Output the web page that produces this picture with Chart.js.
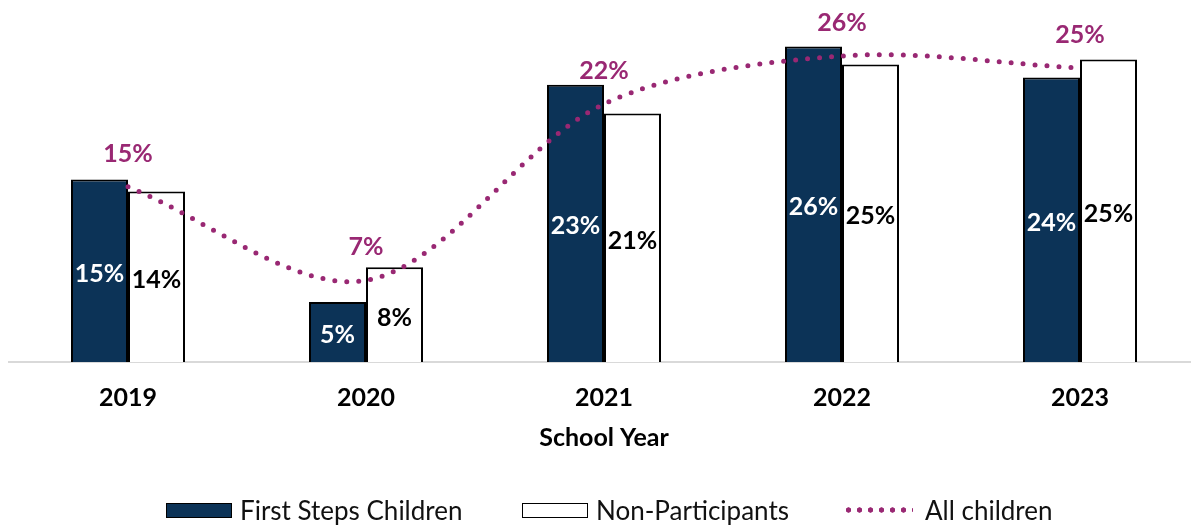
<!DOCTYPE html>
<html>
<head>
<meta charset="utf-8">
<script src="https://cdn.jsdelivr.net/npm/chart.js@4.4.1/dist/chart.umd.min.js"></script>
<style>
  html, body { margin: 0; padding: 0; background: #fff; overflow: hidden; }
  #wrap { position: relative; width: 1200px; height: 527px; }
  #c { display: block; }
  .lg { position: absolute; top: 495px; display: flex; align-items: center; height: 30px;
        font-family: Lato, sans-serif; font-size: 26px; color: #111; white-space: nowrap; }
  .box { width: 64px; height: 13px; border: 1.5px solid #000; margin-right: 8px; }
  .dots { width: 70px; height: 6px; margin-right: 12px;
          background: radial-gradient(circle, #992873 2.4px, rgba(0,0,0,0) 2.9px) 0 0 / 11px 6px repeat-x; }
</style>
</head>
<body>
<div id="wrap">
  <canvas id="c" width="1200" height="527"></canvas>
  <div class="lg" style="left:166px"><span class="box" style="background:#0c3357"></span><span>First Steps Children</span></div>
  <div class="lg" style="left:522px"><span class="box" style="background:#fff"></span><span>Non-Participants</span></div>
  <div class="lg" style="left:843px"><span class="dots"></span><span>All children</span></div>
</div>
<script>
const categories = ['2019', '2020', '2021', '2022', '2023'];
const firstSteps = [15.2, 5.0, 23.1, 26.3, 23.7];
const nonParticipants = [14.2, 7.9, 20.7, 24.8, 25.2];
const allChildren = [14.6, 6.8, 21.5, 25.5, 24.5];
const seriesNames = ['First Steps Children', 'Non-Participants', 'All children'];

const NAVY = '#0c3357';
const PURPLE = '#992873';

const labelPlugin = {
  id: 'valueLabels',
  afterDatasetsDraw(chart) {
    const ctx = chart.ctx;
    ctx.save();
    ctx.textAlign = 'center';
    ctx.textBaseline = 'middle';
    chart.data.datasets.forEach((ds, i) => {
      const meta = chart.getDatasetMeta(i);
      meta.data.forEach((el, j) => {
        const txt = Math.round(ds.data[j]) + '%';
        ctx.font = 'bold 25px Lato, sans-serif';
        if (ds.type === 'line') {
          ctx.fillStyle = PURPLE;
          ctx.fillText(txt, el.x, el.y - 33);
        } else {
          ctx.fillStyle = i === 0 ? '#ffffff' : '#000000';
          const mid = (el.y + el.base) / 2 + 3;
          ctx.fillText(txt, el.x, mid);
        }
      });
    });
    ctx.restore();
  }
};

new Chart(document.getElementById('c'), {
  type: 'bar',
  data: {
    labels: categories,
    datasets: [
      { type: 'bar', label: seriesNames[0], data: firstSteps, backgroundColor: NAVY,
        borderColor: '#000', borderWidth: 2, order: 1,
        categoryPercentage: 0.479, barPercentage: 1.0 },
      { type: 'bar', label: seriesNames[1], data: nonParticipants, backgroundColor: '#ffffff',
        borderColor: '#000', borderWidth: 2, order: 2,
        categoryPercentage: 0.479, barPercentage: 1.0 },
      { type: 'line', label: seriesNames[2], data: allChildren, borderColor: PURPLE,
        borderWidth: 5, borderDash: [0, 12], borderCapStyle: 'round', pointRadius: 0,
        tension: 0.32, fill: false, order: 0 }
    ]
  },
  options: {
    responsive: false,
    animation: false,
    layout: { padding: { left: 9, right: 1, top: 2, bottom: 74 } },
    plugins: { legend: { display: false }, tooltip: { enabled: false } },
    scales: {
      x: {
        grid: { display: false, drawTicks: false },
        border: { display: true, color: '#d9d9d9', width: 2 },
        ticks: { color: '#000', padding: 21, font: { family: 'Lato', size: 25, weight: 'bold' } },
        title: { display: true, text: 'School Year', color: '#000', padding: { top: -11, bottom: 0 },
                 font: { family: 'Lato', size: 25, weight: 'bold' } }
      },
      y: { display: false, min: 0, max: 30 }
    }
  },
  plugins: [labelPlugin]
});
</script>
</body>
</html>
